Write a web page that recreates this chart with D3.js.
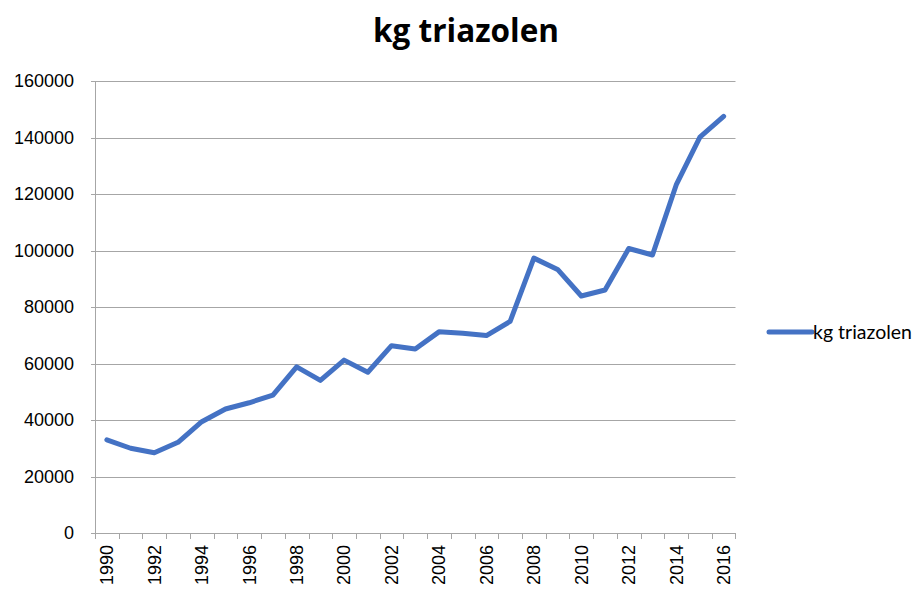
<!DOCTYPE html>
<html>
<head>
<meta charset="utf-8">
<script src="https://cdn.jsdelivr.net/npm/d3@7"></script>
<style>
  body { margin: 0; background: #fff; }
  svg { display: block; }
</style>
</head>
<body>
<div id="chart"></div>
<script>
// ------------------- //
// DATA
// ------------------- //
var years = d3.range(1990, 2017)
var kgTriazolen = [33000, 30000, 28400, 32100, 39400, 43900, 46100, 48800, 58800, 54000,
                   61200, 56900, 66300, 65100, 71200, 70700, 69900, 74900, 97300, 93300,
                   83900, 86000, 100700, 98400, 123200, 140100, 147500]
var yTicks = [0, 20000, 40000, 60000, 80000, 100000, 120000, 140000, 160000]
var seriesName = "kg triazolen"

// ------------------- //
// SETUP
// ------------------- //
var width = 918, height = 590
var plot = {left: 95, right: 735.5, top: 81, bottom: 533}
var lineColor = "#4472C4", gridColor = "#A6A6A6"

var svg = d3.select("#chart")
  .append("svg")
    .attr("width", width)
    .attr("height", height)

var x = d3.scaleBand()
    .domain(years)
    .range([plot.left, plot.right])
    .padding(0)

var y = d3.scaleLinear()
    .domain([0, 160000])
    .range([plot.bottom, plot.top])

// gridlines
svg.selectAll(".grid")
  .data(yTicks.filter(function(d){ return d > 0 }))
  .enter()
  .append("line")
    .attr("x1", plot.left)
    .attr("x2", plot.right)
    .attr("y1", function(d){ return Math.round(y(d)) + 0.5 })
    .attr("y2", function(d){ return Math.round(y(d)) + 0.5 })
    .style("stroke", gridColor)
    .style("stroke-width", 1)

// y axis line + ticks
svg.append("line")
    .attr("x1", plot.left + 0.5).attr("x2", plot.left + 0.5)
    .attr("y1", plot.top).attr("y2", plot.bottom)
    .style("stroke", gridColor)
svg.selectAll(".ytick")
  .data(yTicks)
  .enter()
  .append("line")
    .attr("x1", plot.left - 4).attr("x2", plot.left)
    .attr("y1", function(d){ return Math.round(y(d)) + 0.5 })
    .attr("y2", function(d){ return Math.round(y(d)) + 0.5 })
    .style("stroke", gridColor)

// y labels
svg.selectAll(".ylab")
  .data(yTicks)
  .enter()
  .append("text")
    .attr("x", plot.left - 21)
    .attr("y", function(d){ return y(d) })
    .attr("dy", "0.35em")
    .attr("text-anchor", "end")
    .style("font-family", "Liberation Sans, Arial, sans-serif")
    .style("font-size", "18px")
    .style("fill", "#000")
    .text(function(d){ return d })

// x axis line + ticks at band edges
svg.append("line")
    .attr("x1", plot.left).attr("x2", plot.right)
    .attr("y1", Math.round(y(0)) + 0.5).attr("y2", Math.round(y(0)) + 0.5)
    .style("stroke", gridColor)
var edges = years.map(function(d){ return x(d) }).concat([x(years[years.length - 1]) + x.bandwidth()])
svg.selectAll(".xtick")
  .data(edges)
  .enter()
  .append("line")
    .attr("x1", function(d){ return Math.round(d) + 0.5 })
    .attr("x2", function(d){ return Math.round(d) + 0.5 })
    .attr("y1", Math.round(y(0)))
    .attr("y2", Math.round(y(0)) + 6)
    .style("stroke", gridColor)

// x labels (every other year, rotated)
svg.selectAll(".xlab")
  .data(years.filter(function(d){ return d % 2 == 0 }))
  .enter()
  .append("text")
    .attr("transform", function(d){
      return "translate(" + (x(d) + x.bandwidth()/2) + "," + (plot.bottom + 12) + ") rotate(-90)" })
    .attr("dy", "0.35em")
    .attr("text-anchor", "end")
    .style("font-family", "Liberation Sans, Arial, sans-serif")
    .style("font-size", "18px")
    .style("fill", "#000")
    .text(function(d){ return d })

// ------------------- //
// LINE
// ------------------- //
var line = d3.line()
    .x(function(d, i){ return x(years[i]) + x.bandwidth()/2 })
    .y(function(d){ return y(d) })

svg.append("path")
    .datum(kgTriazolen)
    .attr("d", line)
    .style("fill", "none")
    .style("stroke", lineColor)
    .style("stroke-width", 5)
    .style("stroke-linejoin", "round")
    .style("stroke-linecap", "round")

// ------------------- //
// TITLE + LEGEND
// ------------------- //
svg.append("text")
    .attr("x", 466)
    .attr("y", 42)
    .attr("text-anchor", "middle")
    .style("font-family", "Open Sans, sans-serif")
    .style("font-weight", "bold")
    .style("font-size", "31.5px")
    .style("fill", "#000")
    .text(seriesName)

svg.append("line")
    .attr("x1", 769).attr("x2", 812)
    .attr("y1", 332).attr("y2", 332)
    .style("stroke", lineColor)
    .style("stroke-width", 5)
    .style("stroke-linecap", "round")
svg.append("text")
    .attr("x", 813)
    .attr("y", 332)
    .attr("dy", "0.35em")
    .style("font-family", "Lato, sans-serif")
    .style("font-size", "19.5px")
    .style("fill", "#000")
    .text(seriesName)
</script>
</body>
</html>
